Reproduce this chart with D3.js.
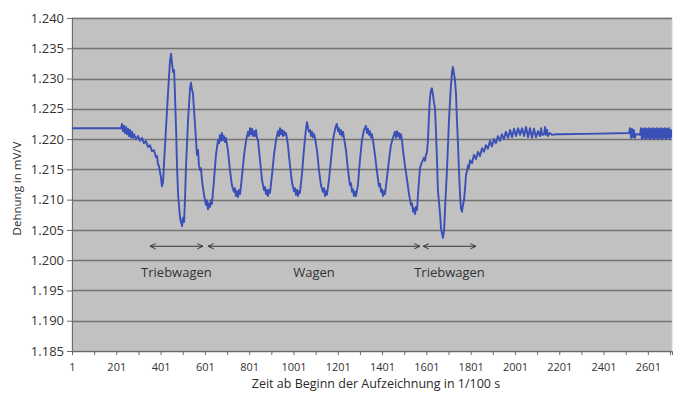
<!DOCTYPE html>
<html>
<head>
<meta charset="utf-8">
<script src="https://cdn.jsdelivr.net/npm/d3@7"></script>
<style>
  html, body { margin: 0; padding: 0; background: #ffffff; }
  svg { display: block; }
</style>
</head>
<body>
<svg id="chart" width="684" height="394"></svg>
<script>
// ---- data (time in 1/100 s, strain in mV/V) ----
const time = [
  1, 222, 227, 231, 236, 240, 245, 249, 254, 258, 263, 267, 272, 276, 281, 290, 299, 308, 317, 326,
  335, 344, 353, 362, 371, 380, 385, 389, 394, 398, 403, 407, 412, 416, 425, 434, 443, 448, 452, 457,
  462, 466, 471, 475, 480, 489, 493, 498, 502, 507, 511, 516, 525, 534, 538, 543, 547, 552, 561, 565,
  570, 574, 579, 583, 588, 597, 606, 610, 615, 620, 624, 629, 633, 642, 651, 660, 665, 669, 674, 678,
  683, 687, 692, 696, 701, 705, 714, 723, 732, 737, 741, 746, 750, 755, 760, 769, 778, 787, 796, 800,
  805, 809, 814, 818, 823, 827, 832, 836, 841, 850, 859, 868, 872, 877, 881, 886, 890, 895, 904, 913,
  922, 931, 936, 940, 945, 949, 954, 958, 963, 967, 972, 976, 985, 994, 1003, 1008, 1012, 1017, 1021, 1026,
  1030, 1039, 1048, 1057, 1062, 1067, 1071, 1076, 1080, 1085, 1089, 1094, 1098, 1107, 1116, 1125, 1134, 1139, 1143, 1148,
  1152, 1161, 1170, 1179, 1188, 1193, 1197, 1202, 1206, 1211, 1215, 1220, 1225, 1229, 1238, 1247, 1256, 1261, 1265, 1270,
  1274, 1279, 1283, 1292, 1301, 1310, 1319, 1324, 1328, 1333, 1337, 1342, 1346, 1351, 1355, 1360, 1369, 1378, 1387, 1392,
  1396, 1401, 1405, 1410, 1414, 1423, 1432, 1441, 1450, 1459, 1464, 1468, 1473, 1477, 1482, 1486, 1491, 1495, 1504, 1514,
  1523, 1532, 1536, 1541, 1545, 1550, 1554, 1559, 1563, 1568, 1572, 1581, 1590, 1595, 1599, 1604, 1608, 1613, 1617, 1622,
  1626, 1631, 1635, 1640, 1644, 1649, 1653, 1663, 1667, 1672, 1676, 1681, 1685, 1694, 1703, 1712, 1717, 1721, 1726, 1730,
  1735, 1739, 1744, 1748, 1753, 1757, 1762, 1766, 1771, 1775, 1780, 1784, 1789, 1793, 1798, 1807, 1816, 1825, 1834, 1843,
  1852, 1861, 1870, 1879, 1888, 1897, 1906, 1915, 1924, 1933, 1942, 1951, 1960, 1970, 1979, 1988, 1997, 2006, 2015, 2024,
  2033, 2042, 2051, 2060, 2069, 2078, 2087, 2096, 2105, 2114, 2119, 2123, 2132, 2137, 2141, 2146, 2150, 2159, 2168, 2186,
  2204, 2385, 2516, 2520, 2525, 2529, 2534, 2538, 2543, 2547, 2556, 2565, 2570, 2574, 2579, 2583, 2588, 2592, 2597, 2601,
  2606, 2610, 2615, 2619, 2624, 2628, 2633, 2637, 2642, 2646, 2651, 2655, 2660, 2664, 2669, 2673, 2678, 2682, 2687, 2691,
  2696, 2700, 2705, 2709
];
const strain = [
  1.2218, 1.2218, 1.2225, 1.2213, 1.2222, 1.2210, 1.2220, 1.2208, 1.2217, 1.2205, 1.2215, 1.2203, 1.2212, 1.2202, 1.2208, 1.2200, 1.2205, 1.2197, 1.2202, 1.2193,
  1.2197, 1.2187, 1.2190, 1.2180, 1.2182, 1.2170, 1.2172, 1.2159, 1.2155, 1.2146, 1.2136, 1.2122, 1.2129, 1.2157, 1.2215, 1.2273, 1.2327, 1.2341, 1.2327, 1.2311,
  1.2314, 1.2273, 1.2215, 1.2157, 1.2108, 1.2070, 1.2063, 1.2056, 1.2070, 1.2063, 1.2099, 1.2157, 1.2231, 1.2284, 1.2293, 1.2281, 1.2276, 1.2248, 1.2198, 1.2174,
  1.2182, 1.2157, 1.2149, 1.2152, 1.2132, 1.2108, 1.2091, 1.2099, 1.2084, 1.2094, 1.2088, 1.2099, 1.2093, 1.2132, 1.2174, 1.2198, 1.2193, 1.2207, 1.2197, 1.2210,
  1.2198, 1.2205, 1.2195, 1.2202, 1.2190, 1.2182, 1.2149, 1.2124, 1.2113, 1.2119, 1.2106, 1.2114, 1.2104, 1.2116, 1.2109, 1.2141, 1.2174, 1.2198, 1.2212, 1.2205,
  1.2218, 1.2208, 1.2217, 1.2205, 1.2213, 1.2205, 1.2215, 1.2202, 1.2198, 1.2165, 1.2132, 1.2116, 1.2121, 1.2109, 1.2116, 1.2106, 1.2116, 1.2111, 1.2141, 1.2174,
  1.2198, 1.2213, 1.2205, 1.2218, 1.2208, 1.2215, 1.2205, 1.2213, 1.2207, 1.2210, 1.2200, 1.2190, 1.2157, 1.2129, 1.2114, 1.2119, 1.2108, 1.2116, 1.2106, 1.2114,
  1.2111, 1.2141, 1.2182, 1.2215, 1.2228, 1.2218, 1.2212, 1.2215, 1.2205, 1.2212, 1.2203, 1.2208, 1.2202, 1.2182, 1.2149, 1.2124, 1.2113, 1.2119, 1.2106, 1.2114,
  1.2108, 1.2132, 1.2165, 1.2198, 1.2215, 1.2222, 1.2225, 1.2213, 1.2218, 1.2208, 1.2215, 1.2205, 1.2212, 1.2202, 1.2182, 1.2149, 1.2124, 1.2127, 1.2113, 1.2117,
  1.2106, 1.2113, 1.2106, 1.2124, 1.2165, 1.2198, 1.2215, 1.2218, 1.2222, 1.2210, 1.2217, 1.2207, 1.2213, 1.2203, 1.2208, 1.2198, 1.2174, 1.2146, 1.2122, 1.2126,
  1.2113, 1.2117, 1.2106, 1.2114, 1.2109, 1.2136, 1.2165, 1.2190, 1.2202, 1.2212, 1.2202, 1.2213, 1.2205, 1.2210, 1.2200, 1.2208, 1.2198, 1.2182, 1.2157, 1.2132,
  1.2108, 1.2091, 1.2094, 1.2080, 1.2086, 1.2076, 1.2088, 1.2083, 1.2108, 1.2132, 1.2152, 1.2162, 1.2169, 1.2164, 1.2174, 1.2179, 1.2198, 1.2240, 1.2268, 1.2281,
  1.2284, 1.2273, 1.2261, 1.2251, 1.2215, 1.2165, 1.2116, 1.2075, 1.2053, 1.2043, 1.2037, 1.2050, 1.2083, 1.2149, 1.2231, 1.2289, 1.2311, 1.2319, 1.2307, 1.2298,
  1.2273, 1.2231, 1.2190, 1.2149, 1.2108, 1.2086, 1.2080, 1.2091, 1.2099, 1.2116, 1.2141, 1.2146, 1.2157, 1.2152, 1.2165, 1.2160, 1.2174, 1.2167, 1.2179, 1.2172,
  1.2185, 1.2179, 1.2190, 1.2184, 1.2197, 1.2188, 1.2200, 1.2193, 1.2205, 1.2197, 1.2208, 1.2200, 1.2212, 1.2202, 1.2215, 1.2203, 1.2217, 1.2205, 1.2218, 1.2207,
  1.2218, 1.2205, 1.2220, 1.2203, 1.2218, 1.2202, 1.2217, 1.2203, 1.2213, 1.2205, 1.2218, 1.2207, 1.2208, 1.2220, 1.2207, 1.2215, 1.2205, 1.2210, 1.2207, 1.2208,
  1.2208, 1.2209, 1.2210, 1.2218, 1.2202, 1.2217, 1.2203, 1.2215, 1.2202, 1.2208, 1.2208, 1.2207, 1.2218, 1.2200, 1.2217, 1.2202, 1.2218, 1.2200, 1.2217, 1.2202,
  1.2218, 1.2200, 1.2217, 1.2202, 1.2218, 1.2200, 1.2217, 1.2202, 1.2218, 1.2200, 1.2217, 1.2202, 1.2218, 1.2200, 1.2217, 1.2202, 1.2218, 1.2200, 1.2217, 1.2202,
  1.2218, 1.2200, 1.2215, 1.2202
];

const yTickValues = [1.185, 1.190, 1.195, 1.200, 1.205, 1.210, 1.215, 1.220, 1.225, 1.230, 1.235, 1.240];
const xTickLabels = [1, 201, 401, 601, 801, 1001, 1201, 1401, 1601, 1801, 2001, 2201, 2401, 2601];
const xTickMarks = [1, 101, 201, 301, 401, 501, 601, 701, 801, 901, 1001, 1101, 1201, 1301, 1401, 1501,
  1601, 1701, 1801, 1901, 2001, 2101, 2201, 2301, 2401, 2501, 2601, 2701];

// annotations
const annoStart = [353, 615, 1586];
const annoEnd = [592, 1572, 1825];
const annoText = ["Triebwagen", "Wagen", "Triebwagen"];
const annoArrowLevel = 1.2023;
const annoTextLevel = 1.1979;

const xTitle = "Zeit ab Beginn der Aufzeichnung in 1/100 s";
const yTitle = "Dehnung in mV/V";

// ---- layout ----
const W = 684, H = 394;
const m = { left: 72, right: 12, top: 18, bottom: 43 };
const pw = W - m.left - m.right;   // 600
const ph = H - m.top - m.bottom;   // 333

const font = "'Open Sans', 'Liberation Sans', sans-serif";
const textColor = "#333333";

const svg = d3.select("#chart");
svg.append("rect").attr("width", W).attr("height", H).attr("fill", "#ffffff");

const x = d3.scaleLinear().domain([1, 2710]).range([m.left, m.left + pw]);
const y = d3.scaleLinear().domain([1.185, 1.240]).range([m.top + ph, m.top]);

// plot background
svg.append("rect")
  .attr("x", m.left).attr("y", m.top).attr("width", pw).attr("height", ph)
  .attr("fill", "#c1c1c1").attr("stroke", "#d4d4d4").attr("stroke-width", 1);

// grid lines
svg.append("g").selectAll("line").data(yTickValues).join("line")
  .attr("x1", m.left).attr("x2", m.left + pw)
  .attr("y1", d => Math.round(y(d)) + 0.5).attr("y2", d => Math.round(y(d)) + 0.5)
  .attr("stroke", "#737373").attr("stroke-width", 1.4);

// y axis
const yAxis = svg.append("g").attr("transform", `translate(${m.left},0)`)
  .call(d3.axisLeft(y).tickValues(yTickValues).tickFormat(d3.format(".3f")).tickSize(5).tickPadding(3));
yAxis.select(".domain").attr("stroke", "#6a6a6a");
yAxis.selectAll(".tick line").attr("stroke", "#6a6a6a");
yAxis.selectAll("text").attr("font-family", font).attr("font-size", 13).attr("fill", textColor);

// x axis: tick marks every 100, labels every 200
const xAxisG = svg.append("g").attr("transform", `translate(0,${m.top + ph})`);
const xMarks = xAxisG.append("g")
  .call(d3.axisBottom(x).tickValues(xTickMarks).tickFormat("").tickSize(4));
xMarks.select(".domain").attr("stroke", "#6a6a6a");
xMarks.selectAll(".tick line").attr("stroke", "#6a6a6a");
const xLabs = xAxisG.append("g")
  .call(d3.axisBottom(x).tickValues(xTickLabels).tickFormat(d3.format("d")).tickSize(0).tickPadding(12));
xLabs.select(".domain").remove();
xLabs.selectAll("text").attr("font-family", font).attr("font-size", 11).attr("fill", textColor);

// axis titles
svg.append("text")
  .attr("x", 376).attr("y", 388)
  .attr("text-anchor", "middle")
  .attr("font-family", font).attr("font-size", 12.5).attr("fill", "#2a2a2a")
  .text(xTitle);
svg.append("text")
  .attr("transform", `translate(21,${m.top + ph / 2 + 4}) rotate(-90)`)
  .attr("text-anchor", "middle")
  .attr("font-family", font).attr("font-size", 11.5).attr("fill", "#2a2a2a")
  .text(yTitle);

// clip
svg.append("clipPath").attr("id", "clip")
  .append("rect").attr("x", m.left).attr("y", m.top).attr("width", pw).attr("height", ph);

// series line
const pts = time.map((t, i) => [t, strain[i]]);
svg.append("path")
  .datum(pts)
  .attr("clip-path", "url(#clip)")
  .attr("fill", "none")
  .attr("stroke", "#3b50b6")
  .attr("stroke-width", 1.9)
  .attr("stroke-linejoin", "round")
  .attr("d", d3.line().x(d => x(d[0])).y(d => y(d[1])));

// arrow markers
const defs = svg.append("defs");
defs.append("marker")
  .attr("id", "arr").attr("viewBox", "0 0 8 8").attr("refX", 7.5).attr("refY", 4)
  .attr("markerWidth", 7).attr("markerHeight", 7).attr("markerUnits", "userSpaceOnUse")
  .attr("orient", "auto-start-reverse")
  .append("path").attr("d", "M1,1 L7.5,4 L1,7").attr("fill", "none").attr("stroke", "#333").attr("stroke-width", 1.1);

const anno = svg.append("g");
annoText.forEach((txt, i) => {
  anno.append("line")
    .attr("x1", x(annoStart[i])).attr("x2", x(annoEnd[i]))
    .attr("y1", y(annoArrowLevel)).attr("y2", y(annoArrowLevel))
    .attr("stroke", "#333").attr("stroke-width", 1)
    .attr("marker-start", "url(#arr)").attr("marker-end", "url(#arr)");
  anno.append("text")
    .attr("x", x((annoStart[i] + annoEnd[i]) / 2))
    .attr("y", y(annoTextLevel))
    .attr("dy", "0.35em")
    .attr("text-anchor", "middle")
    .attr("font-family", font).attr("font-size", 13).attr("fill", "#333")
    .text(txt);
});
</script>
</body>
</html>
